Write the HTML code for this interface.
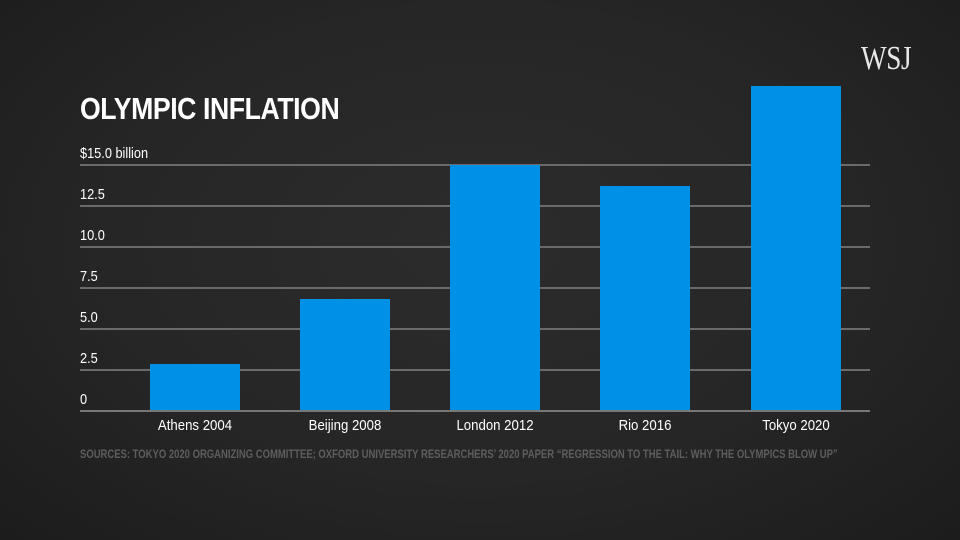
<!DOCTYPE html>
<html><head><meta charset="utf-8"><style>
html,body{margin:0;padding:0}
body{width:960px;height:540px;overflow:hidden;background:radial-gradient(ellipse at 50% 45%,#2c2c2c 0%,#262626 55%,#1c1c1c 100%);font-family:"Liberation Sans",sans-serif;position:relative}
.t{position:absolute;white-space:nowrap;transform-origin:0 0}
.g{position:absolute;left:80px;width:790px;height:1.5px;background:#6a6a6a}
.bar{position:absolute;background:#0091e6;width:90px}
.yl{position:absolute;left:80px;color:#fff;font-size:15px;transform:scaleX(.85);transform-origin:0 0}
.xl{position:absolute;top:417px;color:#fff;font-size:15px;width:140px;text-align:center;transform:scaleX(.88)}
</style></head><body>
<div class="t" style="left:80px;top:91px;color:#fff;font-size:31px;font-weight:bold;transform:scaleX(.86);letter-spacing:-0.5px">OLYMPIC INFLATION</div>
<div class="t" style="left:861px;top:40px;color:#e8e8e8;font-family:'Liberation Serif',serif;font-size:34px;transform:scaleX(.8);letter-spacing:-0.5px">WSJ</div>
<div class="yl" style="top:145px">$15.0 billion</div>
<div class="yl" style="top:186px">12.5</div>
<div class="yl" style="top:227px">10.0</div>
<div class="yl" style="top:268px">7.5</div>
<div class="yl" style="top:309px">5.0</div>
<div class="yl" style="top:350px">2.5</div>
<div class="yl" style="top:391px">0</div>
<div class="g" style="top:164px"></div>
<div class="g" style="top:205px"></div>
<div class="g" style="top:246px"></div>
<div class="g" style="top:287px"></div>
<div class="g" style="top:328px"></div>
<div class="g" style="top:369px"></div>
<div class="bar" style="left:150px;top:364px;height:47px"></div>
<div class="bar" style="left:300px;top:299px;height:112px"></div>
<div class="bar" style="left:450px;top:165px;height:246px"></div>
<div class="bar" style="left:600px;top:186px;height:225px"></div>
<div class="bar" style="left:751px;top:86px;height:325px"></div>
<div class="g" style="top:410px;height:2px;background:#777"></div>
<div class="xl" style="left:125px">Athens 2004</div>
<div class="xl" style="left:275px">Beijing 2008</div>
<div class="xl" style="left:425px">London 2012</div>
<div class="xl" style="left:575px">Rio 2016</div>
<div class="xl" style="left:726px">Tokyo 2020</div>
<div class="t" style="left:80px;top:447px;color:#5e5e5e;font-size:12px;font-weight:bold;transform:scaleX(.79)">SOURCES: TOKYO 2020 ORGANIZING COMMITTEE; OXFORD UNIVERSITY RESEARCHERS’ 2020 PAPER “REGRESSION TO THE TAIL: WHY THE OLYMPICS BLOW UP”</div>
</body></html>
